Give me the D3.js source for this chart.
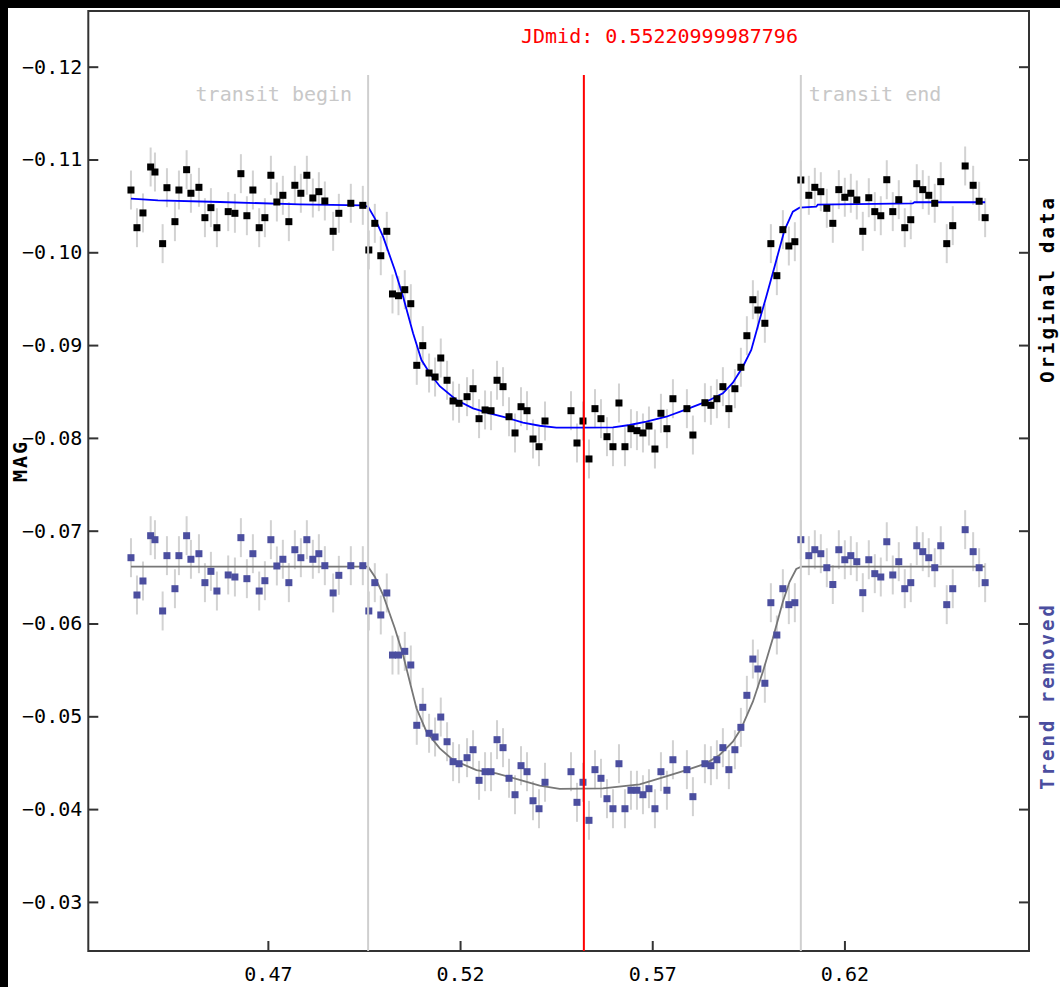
<!DOCTYPE html>
<html><head><meta charset="utf-8">
<script src="https://cdn.jsdelivr.net/npm/d3@7"></script>
<style>
html,body{margin:0;padding:0;background:#fff;}
svg{display:block;font-family:"DejaVu Sans Mono",monospace;}
</style>
</head><body>
<svg id="c" width="1060" height="987"></svg>
<script>
// ---------------- data ----------------
const jd = [
0.43438,0.43594,0.4375,0.4395,0.44062,0.44262,0.44374,0.44582,0.44686,0.44886,
0.44998,0.45206,0.45362,0.45518,0.45674,0.45968,0.46142,0.46298,0.46454,0.4661,
0.46774,0.46922,0.47078,0.47234,0.4739,0.47546,0.47702,0.47858,0.48014,0.4817,
0.48326,0.48482,0.48698,0.48846,0.49158,0.4947,0.49626,0.49782,0.49938,0.50094,
0.50242,0.50398,0.50562,0.50718,0.50874,0.5103,0.51194,0.5135,0.51498,0.51662,
0.51818,0.51974,0.52182,0.52338,0.52494,0.5265,0.52806,0.52962,0.53118,0.53274,
0.5343,0.53586,0.53742,0.53898,0.54054,0.5421,0.54886,0.55042,0.55198,0.55354,
0.5551,0.55666,0.55822,0.55978,0.56134,0.5629,0.56446,0.56602,0.56758,0.56914,
0.5707,0.57226,0.57382,0.57538,0.57902,0.58058,0.5837,0.58526,0.58682,0.58838,
0.58994,0.5915,0.59306,0.59462,0.59618,0.59748,0.5993,0.60086,0.60242,0.60398,
0.60554,0.6071,0.60866,0.61074,0.6123,0.61386,0.61542,0.61698,0.61854,0.6201,
0.62166,0.62322,0.62478,0.62634,0.6279,0.62946,0.63102,0.63258,0.63414,0.6357,
0.63726,0.63882,0.64038,0.64194,0.6435,0.64506,0.64662,0.64818,0.65141,0.65349,
0.65505,0.65661];

const magOriginal = [
-0.10671,-0.10265,-0.10424,-0.10919,-0.10865,-0.10093,-0.10696,-0.1033,-0.10671,-0.1089,
-0.10636,-0.107,-0.10373,-0.10481,-0.10265,-0.10438,-0.1042,-0.10847,-0.10394,-0.10671,
-0.10265,-0.10373,-0.1083,-0.10542,-0.10614,-0.1033,-0.10722,-0.10636,-0.1083,-0.10585,
-0.10653,-0.10553,-0.10226,-0.1042,-0.10528,-0.10506,-0.10025,-0.10312,-0.09963,-0.10226,
-0.09551,-0.09532,-0.09597,-0.09446,-0.08782,-0.08994,-0.08699,-0.08656,-0.08861,-0.08621,
-0.08398,-0.08373,-0.08444,-0.0853,-0.08207,-0.08301,-0.08293,-0.08621,-0.08552,-0.08228,
-0.08053,-0.08336,-0.08293,-0.07988,-0.07905,-0.08182,-0.08293,-0.07945,-0.08182,-0.07773,
-0.08315,-0.08207,-0.08013,-0.07905,-0.08376,-0.07905,-0.08099,-0.08078,-0.08053,-0.08128,
-0.0788,-0.08265,-0.08099,-0.08422,-0.08315,-0.08031,-0.08379,-0.08351,-0.08422,-0.08552,
-0.08315,-0.0853,-0.08761,-0.09101,-0.09489,-0.09378,-0.09235,-0.10093,-0.09748,-0.10244,
-0.10068,-0.10114,-0.10779,-0.10614,-0.107,-0.10653,-0.10474,-0.10312,-0.10675,-0.10593,
-0.10636,-0.10564,-0.10226,-0.10588,-0.10438,-0.10394,-0.10782,-0.10438,-0.10567,-0.10265,
-0.10351,-0.10739,-0.10675,-0.10614,-0.10528,-0.10761,-0.10093,-0.10287,-0.1093,-0.10722,
-0.1055,-0.10373];

const magDetrended = [
-0.06709,-0.06307,-0.06458,-0.06946,-0.06903,-0.06135,-0.06731,-0.06375,-0.06731,-0.06946,
-0.06692,-0.06752,-0.0644,-0.06562,-0.0635,-0.06523,-0.06501,-0.06925,-0.06483,-0.06752,
-0.0635,-0.06461,-0.06903,-0.0662,-0.06692,-0.0644,-0.06795,-0.06709,-0.06903,-0.06692,
-0.06752,-0.06623,-0.06329,-0.06519,-0.06623,-0.06623,-0.06135,-0.0644,-0.06092,-0.06329,
-0.0566,-0.0566,-0.057,-0.05553,-0.04903,-0.05097,-0.04817,-0.04777,-0.04992,-0.04726,
-0.04511,-0.04489,-0.04554,-0.0464,-0.0431,-0.04403,-0.04403,-0.04748,-0.04662,-0.04332,
-0.04155,-0.04468,-0.04403,-0.0409,-0.04004,-0.04289,-0.04403,-0.04073,-0.04289,-0.03879,
-0.04425,-0.04332,-0.04112,-0.04004,-0.04489,-0.04004,-0.04203,-0.04203,-0.04155,-0.0422,
-0.04004,-0.04403,-0.04203,-0.04532,-0.04425,-0.04134,-0.04489,-0.04468,-0.04532,-0.04662,
-0.04425,-0.0464,-0.04881,-0.05226,-0.05617,-0.0551,-0.05356,-0.06224,-0.05876,-0.06375,
-0.06203,-0.06224,-0.06903,-0.06731,-0.06795,-0.06752,-0.06601,-0.0642,-0.06795,-0.06687,
-0.06731,-0.06666,-0.06332,-0.06687,-0.06537,-0.06501,-0.06881,-0.06523,-0.06666,-0.06375,
-0.0644,-0.06838,-0.06774,-0.06709,-0.06601,-0.06838,-0.06203,-0.06375,-0.07011,-0.06774,
-0.06601,-0.0644];

const magError = 0.0021;

const fitOriginalJD = [0.43438,0.4414,0.45752,0.47832,0.4947,0.49608,0.49782,0.49998,0.50302,0.50518,
0.50778,0.50996,0.51212,0.51472,0.51906,0.52338,0.52772,0.53206,0.53638,0.54072,0.54506,0.55198,
0.55978,0.56412,0.56846,0.57366,0.57886,0.58406,0.58838,0.59098,0.59358,0.59576,0.59792,0.59966,
0.60182,0.60442,0.60658,0.60832,0.61266,0.61308,0.63778,0.63822,0.65661];
const fitOriginalMag = [-0.10578,-0.1056,-0.10542,-0.10517,-0.10506,-0.10491,-0.10366,-0.10168,-0.09809,-0.09522,
-0.09127,-0.08839,-0.08696,-0.08557,-0.08408,-0.08319,-0.08265,-0.08218,-0.08164,-0.08131,-0.0811,-0.0811,
-0.08114,-0.08139,-0.08175,-0.08228,-0.08308,-0.0839,-0.08481,-0.08595,-0.08767,-0.08947,-0.0927,-0.09522,
-0.09845,-0.1024,-0.10438,-0.10481,-0.10491,-0.10513,-0.10528,-0.10539,-0.10539];

const fitDetrendedJD = [0.43438,0.4947,0.49608,0.49782,0.49998,0.50302,0.50518,0.50692,0.50866,0.51126,
0.51472,0.51818,0.52426,0.52946,0.53552,0.54072,0.54592,0.55718,0.56672,0.57192,0.57886,0.58406,
0.58752,0.59098,0.59316,0.59618,0.59878,0.60138,0.60398,0.60573,0.60747,0.60878,0.65651];
const fitDetrendedMag = [-0.06612,-0.06612,-0.06612,-0.06504,-0.06307,-0.05948,-0.0566,-0.05373,-0.05086,-0.04834,
-0.04655,-0.04529,-0.04421,-0.04386,-0.04314,-0.04252,-0.04217,-0.04224,-0.04267,-0.04332,-0.04421,-0.04493,
-0.04583,-0.04726,-0.04871,-0.05157,-0.05481,-0.0584,-0.06235,-0.0645,-0.06587,-0.06612,-0.06612];

const yTicks = [-0.12,-0.11,-0.10,-0.09,-0.08,-0.07,-0.06,-0.05,-0.04,-0.03];
const xTicks = [0.47,0.52,0.57,0.62];
const xDomain = [0.42328, 0.66802];
const yDomain = [-0.126, -0.02471];
const transitBegin = 0.49608;
const transitEnd = 0.60866;
const jdMid = 0.55220999987796;
const jdMidLabel = "JDmid: 0.55220999987796";

// ---------------- layout ----------------
const W = 1060, H = 987;
const M = {left: 88.3, right: 1029, top: 11, bottom: 951};
const FONT = 20;

const svg = d3.select("#c");
svg.append("rect").attr("x",0).attr("y",0).attr("width",W).attr("height",8).attr("fill","#000");
svg.append("rect").attr("x",0).attr("y",0).attr("width",8).attr("height",H).attr("fill","#000");

const x = d3.scaleLinear().domain(xDomain).range([M.left, M.right]);
const y = d3.scaleLinear().domain(yDomain).range([M.top, M.bottom]);

// axes
const fmt = d3.format(".2f");
const gL = svg.append("g").attr("transform",`translate(${M.left},0)`)
  .call(d3.axisLeft(y).tickValues(yTicks).tickSize(-10).tickPadding(6).tickFormat(fmt));
const gR = svg.append("g").attr("transform",`translate(${M.right},0)`)
  .call(d3.axisRight(y).tickValues(yTicks).tickSize(-10).tickFormat(""));
const gB = svg.append("g").attr("transform",`translate(0,${M.bottom})`)
  .call(d3.axisBottom(x).tickValues(xTicks).tickSize(-10).tickPadding(16).tickFormat(fmt));
[gL,gR,gB].forEach(g=>{
  g.select(".domain").remove();
  g.attr("font-family",null).attr("font-size",null);
  g.selectAll(".tick line").attr("stroke","#333").attr("stroke-width",2);
  g.selectAll(".tick text").attr("fill","#000").style("font-size",FONT+"px")
    .style("font-family","'DejaVu Sans Mono',monospace");
});

// frame
svg.append("rect").attr("x",M.left).attr("y",M.top)
  .attr("width",M.right-M.left).attr("height",M.bottom-M.top)
  .attr("fill","none").attr("stroke","#333").attr("stroke-width",2);

const data = jd.map((d,i)=>({jd:d, o:magOriginal[i], t:magDetrended[i]}));

function drawErrors(key){
  const g = svg.append("g");
  g.selectAll("line.err").data(data).join("line").attr("class","err")
    .attr("x1",d=>x(d.jd)).attr("x2",d=>x(d.jd))
    .attr("y1",d=>y(d[key]-magError)).attr("y2",d=>y(d[key]+magError))
    .attr("stroke","#d2d2d2").attr("stroke-width",2);
}
function drawPoints(key,color){
  svg.append("g").selectAll("rect.pt").data(data).join("rect").attr("class","pt")
    .attr("x",d=>x(d.jd)-3.5).attr("y",d=>y(d[key])-3.5)
    .attr("width",7).attr("height",7).attr("fill",color);
}
const line = d3.line().x(d=>x(d[0])).y(d=>y(d[1]));

drawErrors("o");
drawErrors("t");
svg.append("path").datum(fitOriginalJD.map((d,i)=>[d,fitOriginalMag[i]]))
  .attr("d",line).attr("fill","none").attr("stroke","#0000ff").attr("stroke-width",1.8);
svg.append("path").datum(fitDetrendedJD.map((d,i)=>[d,fitDetrendedMag[i]]))
  .attr("d",line).attr("fill","none").attr("stroke","#777").attr("stroke-width",1.8);
drawPoints("o","#000");
drawPoints("t","#4b4e9f");

// vertical markers
const vTop = 75;
[[transitBegin,"#cfcfcf"],[transitEnd,"#cfcfcf"],[jdMid,"#ff0000"]].forEach(([v,c])=>{
  svg.append("line").attr("x1",x(v)).attr("x2",x(v)).attr("y1",vTop).attr("y2",M.bottom)
    .attr("stroke",c).attr("stroke-width",2);
});

svg.append("text").attr("x",x(transitBegin)-16).attr("y",101).attr("text-anchor","end")
  .attr("fill","#c8c8c8").style("font-size",FONT+"px").text("transit begin");
svg.append("text").attr("x",x(transitEnd)+8).attr("y",101).attr("text-anchor","start")
  .attr("fill","#c8c8c8").style("font-size",FONT+"px").text("transit end");
svg.append("text").attr("x",521).attr("y",42.5).attr("text-anchor","start")
  .attr("fill","#ff0000").style("font-size",FONT+"px").text(jdMidLabel);

// axis / series titles
svg.append("text").attr("transform","translate(27,461) rotate(-90)").attr("text-anchor","middle")
  .attr("fill","#000").style("font-size",FONT+"px").style("font-weight","bold")
  .style("letter-spacing","2px").text("MAG");
svg.append("text").attr("transform","translate(1054,289) rotate(-90)").attr("text-anchor","middle")
  .attr("fill","#000").style("font-size","19px").style("font-weight","bold")
  .style("letter-spacing","3px").text("Original data");
svg.append("text").attr("transform","translate(1054,696) rotate(-90)").attr("text-anchor","middle")
  .attr("fill","#4b4e9f").style("font-size","19px").style("font-weight","bold")
  .style("letter-spacing","3px").text("Trend removed");
</script>
</body></html>
